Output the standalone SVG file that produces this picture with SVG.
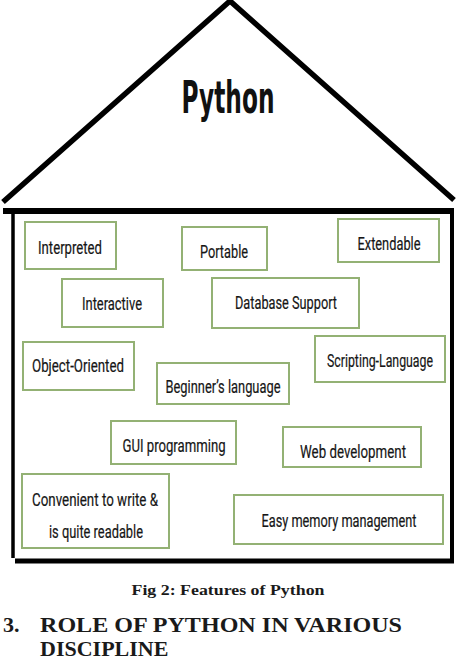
<svg xmlns="http://www.w3.org/2000/svg" width="459" height="657" viewBox="0 0 459 657">
<style>
.box{fill:#fff;stroke:#93b174;stroke-width:2}
.t{font-family:Roboto,"Open Sans","Liberation Sans",sans-serif;font-size:18.5px;fill:#161616;text-anchor:middle;stroke:#161616;stroke-width:0.2}
.cap{font-family:"Liberation Serif","Times New Roman",serif;font-weight:bold;fill:#1a1a1a}
</style>
<rect width="459" height="657" fill="#fff"/>
<g id="house" fill="none" stroke="#000">
<polyline points="3,202 230,1 454,200" stroke-width="5.5" stroke-linejoin="miter"/>
<line x1="3" y1="211" x2="454" y2="211" stroke-width="6"/>
<line x1="13" y1="211" x2="13" y2="558" stroke-width="3.5"/>
<line x1="452" y1="211" x2="452" y2="562" stroke-width="4"/>
<path d="M15,561 H454" stroke-width="5"/>
</g>
<g id="title"><text x="228" y="113" font-family="DejaVu Sans Condensed,DejaVu Sans,sans-serif" font-weight="bold" font-size="44" fill="#111" text-anchor="middle" textLength="93" lengthAdjust="spacingAndGlyphs">Python</text></g>
<g id="interpreted"><rect class="box" x="25" y="222" width="91" height="47"/><text class="t" x="70" y="254" textLength="64" lengthAdjust="spacingAndGlyphs">Interpreted</text></g>
<g id="portable"><rect class="box" x="182" y="227" width="85" height="43"/><text class="t" x="224" y="258" textLength="48" lengthAdjust="spacingAndGlyphs">Portable</text></g>
<g id="extendable"><rect class="box" x="338" y="219" width="101" height="43"/><text class="t" x="389" y="250" textLength="63" lengthAdjust="spacingAndGlyphs">Extendable</text></g>
<g id="interactive"><rect class="box" x="62" y="279" width="101" height="48"/><text class="t" x="112" y="310" textLength="60" lengthAdjust="spacingAndGlyphs">Interactive</text></g>
<g id="database"><rect class="box" x="212" y="278" width="147" height="50"/><text class="t" x="286" y="309" textLength="102" lengthAdjust="spacingAndGlyphs">Database Support</text></g>
<g id="object"><rect class="box" x="23" y="342" width="111" height="48"/><text class="t" x="78" y="372" textLength="92" lengthAdjust="spacingAndGlyphs">Object-Oriented</text></g>
<g id="scripting"><rect class="box" x="315" y="336" width="130" height="46"/><text class="t" x="380" y="367" textLength="106" lengthAdjust="spacingAndGlyphs">Scripting-Language</text></g>
<g id="beginner"><rect class="box" x="157" y="363" width="132" height="41"/><text class="t" x="223" y="393" textLength="115" lengthAdjust="spacingAndGlyphs">Beginner’s language</text></g>
<g id="gui"><rect class="box" x="111" y="421" width="125" height="43"/><text class="t" x="174" y="452" textLength="103" lengthAdjust="spacingAndGlyphs">GUI programming</text></g>
<g id="web"><rect class="box" x="283" y="427" width="138" height="40"/><text class="t" x="353" y="458" textLength="106" lengthAdjust="spacingAndGlyphs">Web development</text></g>
<g id="convenient"><rect class="box" x="22" y="474" width="147" height="74"/><text class="t" x="95" y="506" textLength="126" lengthAdjust="spacingAndGlyphs">Convenient to write &amp;</text><text class="t" x="96" y="538" textLength="94" lengthAdjust="spacingAndGlyphs">is quite readable</text></g>
<g id="memory"><rect class="box" x="234" y="495" width="209" height="49"/><text class="t" x="339" y="527" textLength="155" lengthAdjust="spacingAndGlyphs">Easy memory management</text></g>
<g id="connectors"></g>
<text class="cap" x="228" y="595" font-size="15" text-anchor="middle" textLength="193" lengthAdjust="spacingAndGlyphs">Fig 2: Features of Python</text>
<text class="cap" x="3" y="632" font-size="22">3.</text>
<text class="cap" x="40" y="632" font-size="22" textLength="362" lengthAdjust="spacingAndGlyphs">ROLE OF PYTHON IN VARIOUS</text>
<text class="cap" x="40" y="656" font-size="22">DISCIPLINE</text>
</svg>
